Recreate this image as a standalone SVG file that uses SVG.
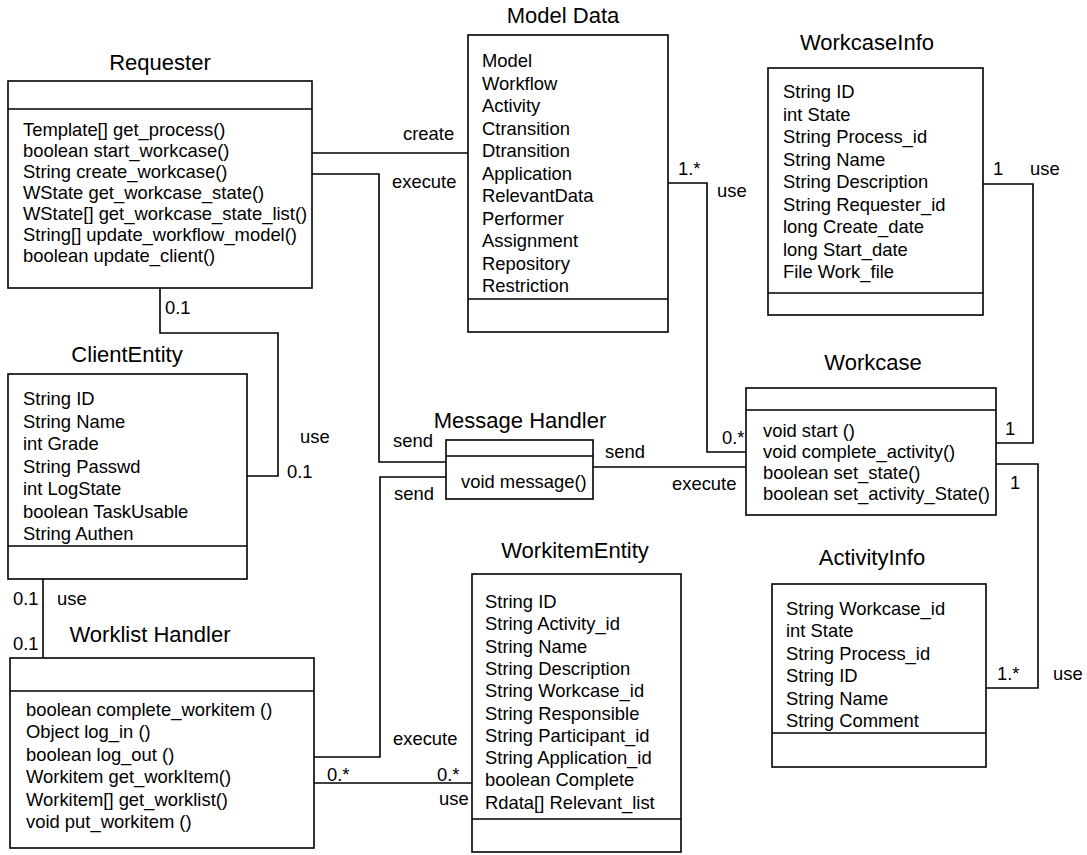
<svg xmlns="http://www.w3.org/2000/svg" width="1087" height="855" viewBox="0 0 1087 855">
  <style>
    .box { fill: #fff; stroke: #000; stroke-width: 1.6; }
    .div { stroke: #000; stroke-width: 1.6; }
    .wire { fill: none; stroke: #000; stroke-width: 1.6; }
    text { font-family: "Liberation Sans", Arial, sans-serif; fill: #000; }
    .title { font-size: 22px; text-anchor: middle; }
    .item { font-size: 18.4px; }
    .lbl { font-size: 18.4px; }
  </style>

  <!-- associations between classes -->
  <g id="connectors">
    <!-- Requester create -> Model Data -->
    <line class="wire" x1="312" y1="153" x2="468" y2="153"/>
    <!-- Requester execute -> Message Handler -->
    <polyline class="wire" points="312,174 379,174 379,462 446,462"/>
    <!-- Requester use -> ClientEntity -->
    <polyline class="wire" points="160,288 160,333 278,333 278,476 247,476"/>
    <!-- ClientEntity use -> Worklist Handler -->
    <line class="wire" x1="43" y1="579" x2="43" y2="658"/>
    <!-- Message Handler send -> Workcase -->
    <line class="wire" x1="593" y1="467" x2="746" y2="467"/>
    <!-- Message Handler send -> Worklist Handler -->
    <polyline class="wire" points="446,477 380,477 380,757 314,757"/>
    <!-- Worklist Handler use -> WorkitemEntity -->
    <line class="wire" x1="314" y1="783" x2="472" y2="783"/>
    <!-- Model Data use -> Workcase -->
    <polyline class="wire" points="668,183 707,183 707,452 746,452"/>
    <!-- WorkcaseInfo use -> Workcase -->
    <polyline class="wire" points="983,184 1033,184 1033,443 996,443"/>
    <!-- Workcase use -> ActivityInfo -->
    <polyline class="wire" points="996,464 1038,464 1038,688 986,688"/>

    <text class="lbl" x="403" y="140">create</text>
    <text class="lbl" x="392" y="188">execute</text>
    <text class="lbl" x="165" y="314">0.1</text>
    <text class="lbl" x="300" y="443">use</text>
    <text class="lbl" x="287" y="478">0.1</text>
    <text class="lbl" x="13" y="605">0.1</text>
    <text class="lbl" x="57" y="605">use</text>
    <text class="lbl" x="13" y="650">0.1</text>
    <text class="lbl" x="393" y="447">send</text>
    <text class="lbl" x="394" y="500">send</text>
    <text class="lbl" x="605" y="458">send</text>
    <text class="lbl" x="672" y="490">execute</text>
    <text class="lbl" x="393" y="745">execute</text>
    <text class="lbl" x="327" y="781">0.*</text>
    <text class="lbl" x="437" y="781">0.*</text>
    <text class="lbl" x="439" y="805">use</text>
    <text class="lbl" x="678" y="175">1.*</text>
    <text class="lbl" x="717" y="197">use</text>
    <text class="lbl" x="993" y="175">1</text>
    <text class="lbl" x="1030" y="175">use</text>
    <text class="lbl" x="722" y="444">0.*</text>
    <text class="lbl" x="1005" y="435">1</text>
    <text class="lbl" x="1010" y="489">1</text>
    <text class="lbl" x="997" y="680">1.*</text>
    <text class="lbl" x="1053" y="680">use</text>
  </g>

  <g id="requester">
    <text class="title" x="160" y="70">Requester</text>
    <rect class="box" x="8" y="81" width="304" height="207"/>
    <line class="div" x1="8" y1="109" x2="312" y2="109"/>
    <text class="item" x="23" y="136">Template[] get_process()</text>
    <text class="item" x="23" y="157">boolean start_workcase()</text>
    <text class="item" x="23" y="178">String create_workcase()</text>
    <text class="item" x="23" y="199">WState get_workcase_state()</text>
    <text class="item" x="23" y="220">WState[] get_workcase_state_list()</text>
    <text class="item" x="23" y="241">String[] update_workflow_model()</text>
    <text class="item" x="23" y="262">boolean update_client()</text>
  </g>

  <g id="model-data">
    <text class="title" x="563" y="23">Model Data</text>
    <rect class="box" x="468" y="35" width="200" height="297"/>
    <line class="div" x1="468" y1="299" x2="668" y2="299"/>
    <text class="item" x="482" y="67">Model</text>
    <text class="item" x="482" y="89.5">Workflow</text>
    <text class="item" x="482" y="112">Activity</text>
    <text class="item" x="482" y="134.5">Ctransition</text>
    <text class="item" x="482" y="157">Dtransition</text>
    <text class="item" x="482" y="179.5">Application</text>
    <text class="item" x="482" y="202">RelevantData</text>
    <text class="item" x="482" y="224.5">Performer</text>
    <text class="item" x="482" y="247">Assignment</text>
    <text class="item" x="482" y="269.5">Repository</text>
    <text class="item" x="482" y="292">Restriction</text>
  </g>

  <g id="workcase-info">
    <text class="title" x="867" y="50">WorkcaseInfo</text>
    <rect class="box" x="768" y="68" width="215" height="247"/>
    <line class="div" x1="768" y1="293" x2="983" y2="293"/>
    <text class="item" x="783" y="98">String ID</text>
    <text class="item" x="783" y="120.5">int State</text>
    <text class="item" x="783" y="143">String Process_id</text>
    <text class="item" x="783" y="165.5">String Name</text>
    <text class="item" x="783" y="188">String Description</text>
    <text class="item" x="783" y="210.5">String Requester_id</text>
    <text class="item" x="783" y="233">long Create_date</text>
    <text class="item" x="783" y="255.5">long Start_date</text>
    <text class="item" x="783" y="278">File Work_file</text>
  </g>

  <g id="client-entity">
    <text class="title" x="127" y="362">ClientEntity</text>
    <rect class="box" x="8" y="374" width="239" height="205"/>
    <line class="div" x1="8" y1="546" x2="247" y2="546"/>
    <text class="item" x="23" y="405">String ID</text>
    <text class="item" x="23" y="427.5">String Name</text>
    <text class="item" x="23" y="450">int Grade</text>
    <text class="item" x="23" y="472.5">String Passwd</text>
    <text class="item" x="23" y="495">int LogState</text>
    <text class="item" x="23" y="517.5">boolean TaskUsable</text>
    <text class="item" x="23" y="540">String Authen</text>
  </g>

  <g id="message-handler">
    <text class="title" x="520" y="428">Message Handler</text>
    <rect class="box" x="446" y="440" width="147" height="59"/>
    <line class="div" x1="446" y1="456" x2="593" y2="456"/>
    <text class="item" x="461" y="488">void message()</text>
  </g>

  <g id="workcase">
    <text class="title" x="873" y="370">Workcase</text>
    <rect class="box" x="746" y="388" width="250" height="127"/>
    <line class="div" x1="746" y1="410" x2="996" y2="410"/>
    <text class="item" x="763" y="437">void start ()</text>
    <text class="item" x="763" y="458">void complete_activity()</text>
    <text class="item" x="763" y="479">boolean set_state()</text>
    <text class="item" x="763" y="500">boolean set_activity_State()</text>
  </g>

  <g id="activity-info">
    <text class="title" x="872" y="565">ActivityInfo</text>
    <rect class="box" x="772" y="584" width="214" height="183"/>
    <line class="div" x1="772" y1="733" x2="986" y2="733"/>
    <text class="item" x="786" y="615">String Workcase_id</text>
    <text class="item" x="786" y="637.4">int State</text>
    <text class="item" x="786" y="659.8">String Process_id</text>
    <text class="item" x="786" y="682.2">String ID</text>
    <text class="item" x="786" y="704.6">String Name</text>
    <text class="item" x="786" y="727">String Comment</text>
  </g>

  <g id="worklist-handler">
    <text class="title" x="150" y="642">Worklist Handler</text>
    <rect class="box" x="10" y="658" width="304" height="190"/>
    <line class="div" x1="10" y1="691" x2="314" y2="691"/>
    <text class="item" x="26" y="716">boolean complete_workitem ()</text>
    <text class="item" x="26" y="738.4">Object log_in ()</text>
    <text class="item" x="26" y="760.8">boolean log_out ()</text>
    <text class="item" x="26" y="783.2">Workitem get_workItem()</text>
    <text class="item" x="26" y="805.6">Workitem[] get_worklist()</text>
    <text class="item" x="26" y="828">void put_workitem ()</text>
  </g>

  <g id="workitem-entity">
    <text class="title" x="575" y="558">WorkitemEntity</text>
    <rect class="box" x="472" y="574" width="209" height="278"/>
    <line class="div" x1="472" y1="819" x2="681" y2="819"/>
    <text class="item" x="485" y="608">String ID</text>
    <text class="item" x="485" y="630.3">String Activity_id</text>
    <text class="item" x="485" y="652.6">String Name</text>
    <text class="item" x="485" y="674.9">String Description</text>
    <text class="item" x="485" y="697.2">String Workcase_id</text>
    <text class="item" x="485" y="719.5">String Responsible</text>
    <text class="item" x="485" y="741.8">String Participant_id</text>
    <text class="item" x="485" y="764.1">String Application_id</text>
    <text class="item" x="485" y="786.4">boolean Complete</text>
    <text class="item" x="485" y="808.7">Rdata[] Relevant_list</text>
  </g>
</svg>
